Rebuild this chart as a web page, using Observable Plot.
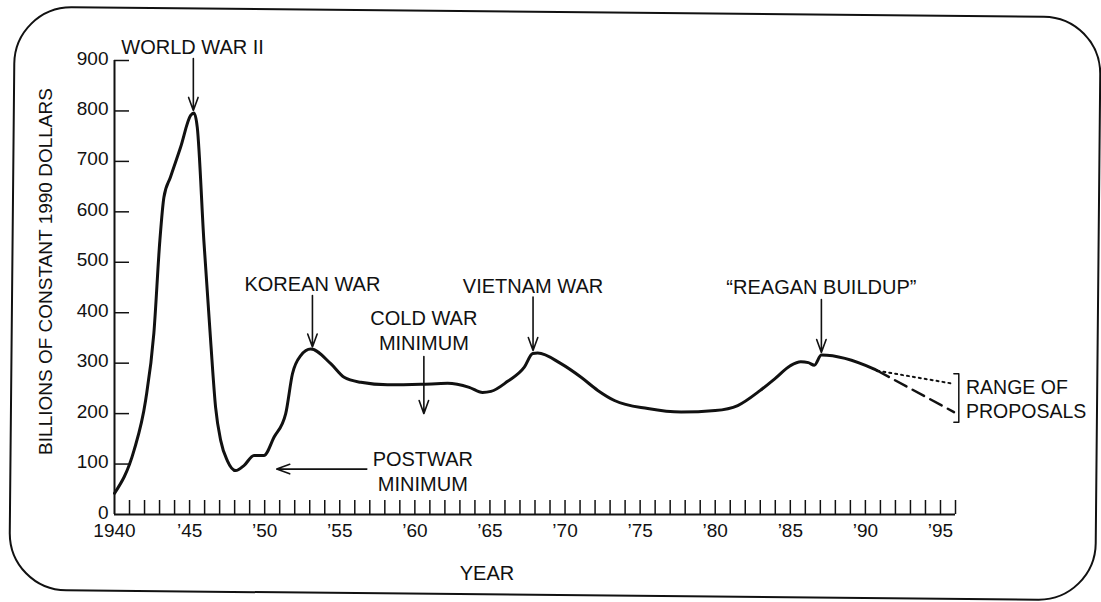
<!DOCTYPE html>
<html><head><meta charset="utf-8">
<script src="https://cdn.jsdelivr.net/npm/d3@7"></script>
<script src="https://cdn.jsdelivr.net/npm/@observablehq/plot@0.6"></script>
<style>
html,body{margin:0;padding:0;background:#fff;}
#wrap{position:relative;width:1101px;height:602px;overflow:hidden;background:#fff;}
#frame{position:absolute;left:11px;top:11px;width:1088px;height:585px;border:2.5px solid #111;border-radius:58px;transform:rotate(0.55deg);box-sizing:border-box;}
#chart{position:absolute;left:0;top:0;}
</style></head><body>
<div id="wrap"><div id="frame"></div><div id="chart"></div></div>
<script>
// Defense spending, billions of constant 1990 dollars
const years = [1940, 1941.3, 1942.07, 1942.62, 1943.02, 1943.29, 1943.73, 1944.4, 1945.07, 1945.29, 1945.51, 1945.95, 1946.4, 1946.73, 1947.07, 1947.51, 1948.07, 1948.62, 1949.29, 1949.95, 1950.62, 1951.4, 1951.85, 1952.4, 1953.07, 1954.4, 1955.29, 1956.4, 1958.18, 1960.4, 1962.18, 1963.62, 1964.51, 1965.07, 1966.18, 1967.29, 1967.85, 1968.18, 1969.73, 1971.07, 1972.18, 1973.29, 1975.51, 1977.73, 1980, 1981.5, 1983, 1984, 1985, 1985.7, 1986.2, 1986.6, 1987.07, 1990.51, 1990.8];
const spending = [42, 127, 226, 359, 543, 629, 669, 728, 791, 796, 768, 543, 345, 213, 147, 107, 87, 97, 117, 117, 153, 200, 279, 315, 328, 299, 272, 262, 257, 258, 260, 252, 242, 244, 264, 292, 319, 320, 299, 272, 246, 226, 210, 203, 206, 216, 246, 270, 295, 303, 301, 296, 316, 289, 285];

// Range of proposals
const projYears = [1990.8, 1995.9];
const highProposal = [285, 259];
const lowProposal = [285, 203];

// Axes
const yTicks = [0, 100, 200, 300, 400, 500, 600, 700, 800, 900];
const tickYears = d3.range(1941, 1997);
const labelYears = [1940, 1945, 1950, 1955, 1960, 1965, 1970, 1975, 1980, 1985, 1990, 1995];
const xTickLabels = ["1940", "\u201945", "\u201950", "\u201955", "\u201960", "\u201965", "\u201970", "\u201975", "\u201980", "\u201985", "\u201990", "\u201995"];
const xTitle = "YEAR";
const yTitle = "BILLIONS OF CONSTANT 1990 DOLLARS";

// Annotations
const noteText = ["WORLD WAR II", "KOREAN WAR", "COLD WAR\nMINIMUM", "VIETNAM WAR", "\u201cREAGAN BUILDUP\u201d", "POSTWAR\nMINIMUM"];
const noteX = [1945.2, 1953.18, 1960.6, 1967.87, 1987.07, 1960.53];
const noteY = [928, 458, 366, 454, 452, 87];
const arrowX1 = [1945.25, 1953.18, 1960.6, 1967.87, 1987.07, 1956.8];
const arrowX2 = [1945.25, 1953.18, 1960.6, 1967.87, 1987.07, 1950.8];
const arrowY1 = [904, 434, 313, 431, 426, 90];
const arrowY2 = [801, 332, 200, 325, 321, 90];
const rangeText = "RANGE OF\nPROPOSALS";
const rangeX = 1996.7, rangeY = 230;
const bracketX = [1995.89, 1996.22, 1996.22, 1995.89];
const bracketY = [279, 279, 183, 183];

const series = years.map((x, i) => ({x, y: spending[i]}));
const high = projYears.map((x, i) => ({x, y: highProposal[i]}));
const low = projYears.map((x, i) => ({x, y: lowProposal[i]}));
const notes = noteText.map((t, i) => ({t, x: noteX[i], y: noteY[i]}));
const arrows = arrowX1.map((x1, i) => ({x1, x2: arrowX2[i], y1: arrowY1[i], y2: arrowY2[i]}));
const bracket = bracketX.map((x, i) => ({x, y: bracketY[i]}));
const labelMap = new Map(labelYears.map((y, i) => [y, xTickLabels[i]]));

const ink = "#111";
const W = 1101, H = 602, mL = 114, mR = 146, mT = 60, mB = 88;

const chart = Plot.plot({
  width: W, height: H,
  marginLeft: mL, marginRight: mR, marginTop: mT, marginBottom: mB,
  x: {domain: [1940, 1996]},
  y: {domain: [0, 900]},
  style: {fontFamily: "'Liberation Sans', Arial, Helvetica, sans-serif", color: ink, background: "transparent", overflow: "visible"},
  marks: [
    Plot.tickX(tickYears, {stroke: ink, strokeWidth: 1.5, insetTop: (H - mT - mB) - 14}),
    Plot.tickY(yTicks.slice(1), {stroke: ink, strokeWidth: 1.5, insetRight: (W - mL - mR) - 15}),
    Plot.ruleX([1940], {y1: 0, y2: 900, stroke: ink, strokeWidth: 2}),
    Plot.ruleY([0], {x1: 1940, x2: 1996, stroke: ink, strokeWidth: 2}),
    Plot.axisX({ticks: labelYears, tickSize: 0, tickPadding: 9, fontSize: 19, tickFormat: d => labelMap.get(d), label: null}),
    Plot.axisY({ticks: yTicks, tickSize: 0, tickPadding: 6, dy: -2, fontSize: 19, label: null}),
    Plot.text([xTitle], {frameAnchor: "bottom", x: [1964.8], dy: 65, fontSize: 20, fill: ink}),
    Plot.text([yTitle], {frameAnchor: "left", textAnchor: "middle", dx: -69, dy: -16, rotate: -90, fontSize: 19, fill: ink}),
    Plot.line(series, {x: "x", y: "y", curve: "monotone-x", stroke: ink, strokeWidth: 3, strokeLinejoin: "round"}),
    Plot.line(high, {x: "x", y: "y", stroke: ink, strokeWidth: 2, strokeDasharray: "2,4"}),
    Plot.line(low, {x: "x", y: "y", stroke: ink, strokeWidth: 2.5, strokeDasharray: "13,7"}),
    Plot.line(bracket, {x: "x", y: "y", stroke: ink, strokeWidth: 1.5}),
    Plot.arrow(arrows, {x1: "x1", y1: "y1", x2: "x2", y2: "y2", stroke: ink, strokeWidth: 1.6, headLength: 13, headAngle: 40}),
    Plot.text(notes, {x: "x", y: "y", text: "t", fontSize: 20, lineHeight: 1.25, fill: ink}),
    Plot.text([rangeText], {x: [rangeX], y: [rangeY], textAnchor: "start", fontSize: 19.5, lineHeight: 1.25, fill: ink})
  ]
});
document.getElementById("chart").appendChild(chart);
</script>
</body></html>
